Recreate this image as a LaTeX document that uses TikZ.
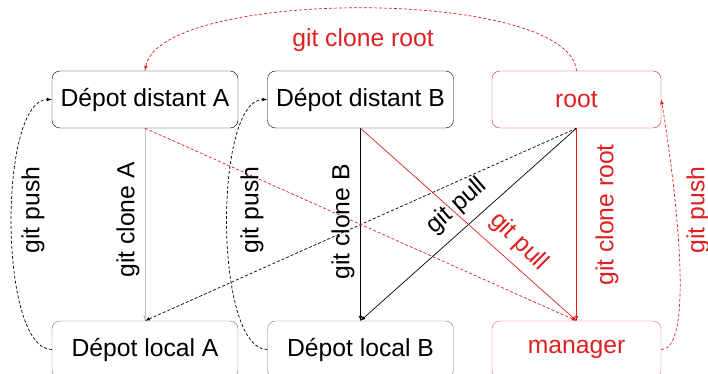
\documentclass[tikz,border=0pt]{standalone}
\usepackage{fontspec}
\setmainfont{Liberation Sans}
\usetikzlibrary{arrows}

\definecolor{gitred}{RGB}{222,32,32}
\definecolor{boxgray}{RGB}{120,120,120}

\tikzset{
  repo/.style={draw,rounded corners=8pt,minimum width=186pt,minimum height=57pt,inner sep=0pt},
  rootrepo/.style={repo,minimum width=169pt},
  cmd/.style={inner sep=1pt},
  link/.style={-latex,line width=0.7pt}
}

\begin{document}
\begin{tikzpicture}[x=1pt,y=-1pt,every node/.style={font=\fontsize{24.7}{28}\selectfont}]
  \useasboundingbox (0,0) rectangle (708,374);

  \node[repo] (dA) at (145,99.5) {Dépot distant A};
  \node[repo] (dB) at (360.5,99.5) {Dépot distant B};
  \node[rootrepo,draw=gitred,text=gitred] (root) at (576.5,99.5) {root};
  \node[repo,draw=boxgray] (lA) at (145,349.5) {Dépot local A};
  \node[repo,draw=boxgray] (lB) at (360.5,349.5) {Dépot local B};
  \node[rootrepo,draw=gitred!70,text=gitred] (mgr) at (576.5,349.5) {manager};

  % push / clone of A and B
  \draw[link,densely dashed] (lA.west) to[out=180,in=180,looseness=0.55] (dA.west);
  \draw[link,densely dashed] (lB.west) to[out=180,in=180,looseness=0.55] (dB.west);
  \draw[link,gray!50] (dA.south) -- (lA.north);
  \draw[link] (dB.south) -- (lB.north);

  % pull from root
  \draw[link,densely dashed] (root.south) -- (lA.north);
  \draw[link] (root.south) -- (lB.north);

  % root and manager
  \draw[link,gitred,densely dashed] (root.north) to[out=95,in=80,looseness=0.5] (dA.north);
  \draw[link,gitred] (root.south) -- (mgr.north);
  \draw[link,gitred,densely dashed] (dA.south) -- (mgr.north);
  \draw[link,gitred] (dB.south) -- (mgr.north);
  \draw[link,gitred,densely dashed] (mgr.east) to[out=0,in=-80,looseness=0.4] (root.east);

  \node[cmd,text=gitred] (lclroot) at (363,40) {git clone root};
  \node[cmd,rotate=90] (lpushA) at (33,210) {git push};
  \node[cmd,rotate=90] (lcloneA) at (128,220) {git clone A};
  \node[cmd,rotate=90] (lpushB) at (252,210) {git push};
  \node[cmd,rotate=90] (lcloneB) at (343,222) {git clone B};
  \node[cmd,rotate=41] (lpull) at (457,206) {git pull};
  \node[cmd,rotate=-45,text=gitred] (lpullr) at (519,242) {git pull};
  \node[cmd,rotate=90,text=gitred] (lclroot2) at (607,215) {git clone root};
  \node[cmd,rotate=90,text=gitred] (lpushr) at (698,210) {git push};

\end{tikzpicture}
\end{document}
